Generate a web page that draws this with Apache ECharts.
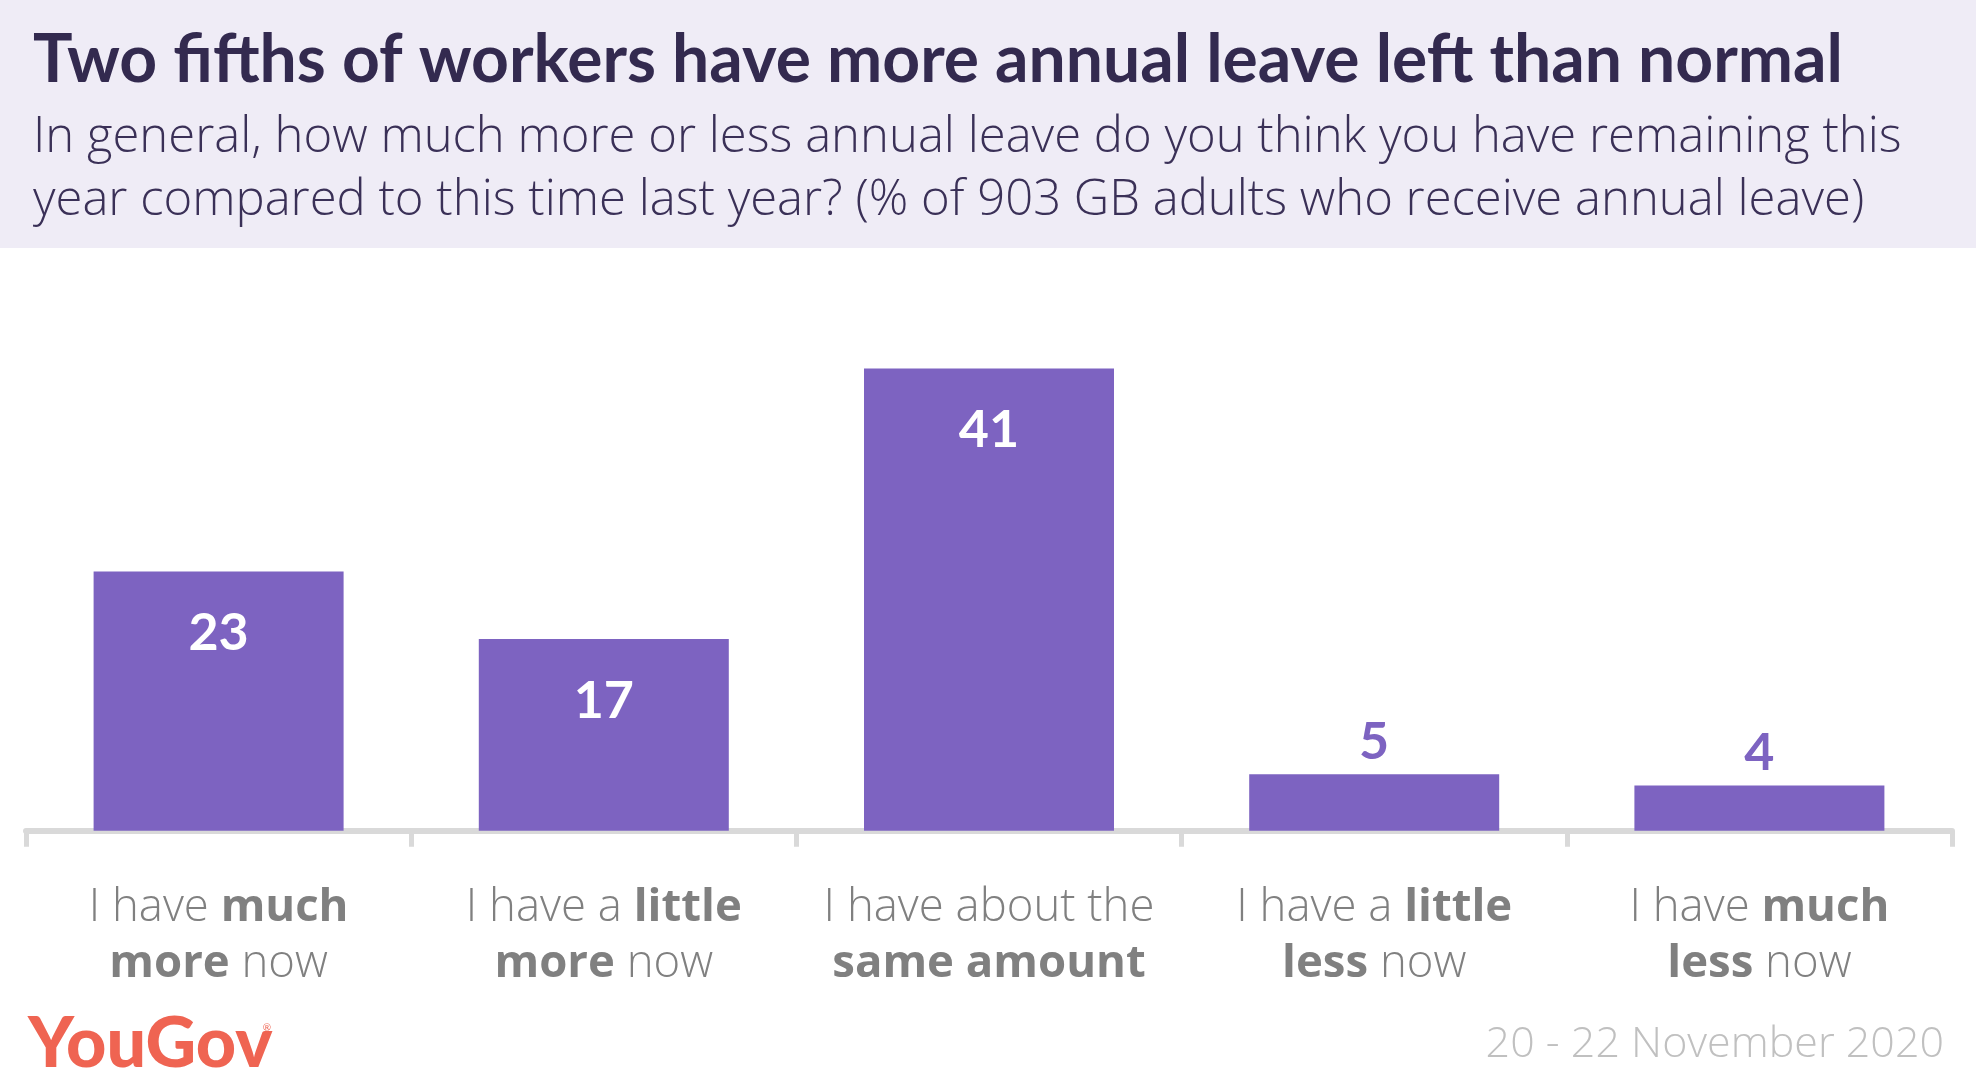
<!DOCTYPE html>
<html>
<head>
<meta charset="utf-8">
<script src="https://cdn.jsdelivr.net/npm/echarts@6/dist/echarts.min.js"></script>
<style>
html,body{margin:0;padding:0;background:#ffffff;}
#chart{width:1976px;height:1087px;}
</style>
</head>
<body>
<div id="chart"></div>
<script>
const titleText = 'Two fifths of workers have more annual leave left than normal';
const subtitleText = 'In general, how much more or less annual leave do you think you have remaining this\nyear compared to this time last year? (% of 903 GB adults who receive annual leave)';
const dateText = '20 - 22 November 2020';
const categories = [
  'I have much more now',
  'I have a little more now',
  'I have about the same amount',
  'I have a little less now',
  'I have much less now'
];
const tickLabels = [
  '{l|I have }{b|much}\n{b|more}{l| now}',
  '{l|I have a }{b|little}\n{b|more}{l| now}',
  '{l|I have about the}\n{b|same amount}',
  '{l|I have a }{b|little}\n{b|less}{l| now}',
  '{l|I have }{b|much}\n{b|less}{l| now}'
];
const values = [23, 17, 41, 5, 4];

const PURPLE = '#7d63c1';
const FONT = 'Lato, "Noto Sans", sans-serif';
const FONT2 = '"Open Sans", Lato, sans-serif';

const chart = echarts.init(document.getElementById('chart'), null, {renderer: 'canvas'});

const seriesData = values.map(v => v >= 10 ? {
  value: v,
  label: {show: true, position: 'insideTop', distance: 36, color: '#ffffff', fontSize: 52, fontWeight: 'bold', fontFamily: FONT}
} : {
  value: v,
  label: {show: true, position: 'top', distance: 6, color: PURPLE, fontSize: 52, fontWeight: 'bold', fontFamily: FONT}
});

const option = {
  backgroundColor: '#ffffff',
  animation: false,
  grid: {left: 26, right: 24, top: 267, bottom: 256.3, containLabel: false},
  xAxis: {
    type: 'category',
    data: categories,
    offset: 3.5,
    boundaryGap: true,
    axisLine: {show: true, lineStyle: {color: '#d9d9d9', width: 6}},
    axisTick: {show: true, length: 16, lineStyle: {color: '#d9d9d9', width: 5}},
    axisLabel: {
      margin: 46,
      interval: 0,
      formatter: (val, idx) => tickLabels[idx],
      rich: {
        l: {fontFamily: FONT2, fontWeight: 300, fontSize: 45.5, color: '#808080', lineHeight: 56},
        b: {fontFamily: FONT2, fontWeight: 'bold', fontSize: 45.5, color: '#808080', lineHeight: 56}
      }
    }
  },
  yAxis: {
    type: 'value', min: 0, max: 50, show: false,
    splitLine: {show: false}
  },
  series: [{
    type: 'bar',
    data: seriesData,
    barWidth: 250,
    itemStyle: {color: PURPLE},
    z: 3
  }],
  graphic: [
    {type: 'rect', left: 0, top: 0, z: -10, shape: {width: 1976, height: 248}, style: {fill: '#efecf6'}},
    {type: 'text', x: 33, y: 61, z: 10, style: {text: titleText, fill: '#332a4f', font: 'bold 66px ' + FONT, textAlign: 'left', textVerticalAlign: 'middle'}},
    {type: 'text', x: 33, y: 107, z: 10, style: {text: subtitleText, fill: '#3a3057', font: '300 49px ' + FONT2, lineHeight: 63, textAlign: 'left', textVerticalAlign: 'top'}},
    {type: 'text', x: 28, y: 1044.5, z: 10, style: {text: 'YouGov', fill: '#ef6452', font: '900 70px ' + FONT, textAlign: 'left', textVerticalAlign: 'middle'}},
    {type: 'text', x: 267, y: 1028, z: 10, style: {text: '®', fill: '#ef6452', font: '10px ' + FONT, textAlign: 'center', textVerticalAlign: 'middle'}},
    {type: 'text', x: 1944, y: 1044.5, z: 10, style: {text: dateText, fill: '#c0c0c0', font: '300 43px ' + FONT2, textAlign: 'right', textVerticalAlign: 'middle'}}
  ]
};
chart.setOption(option);
</script>
</body>
</html>
